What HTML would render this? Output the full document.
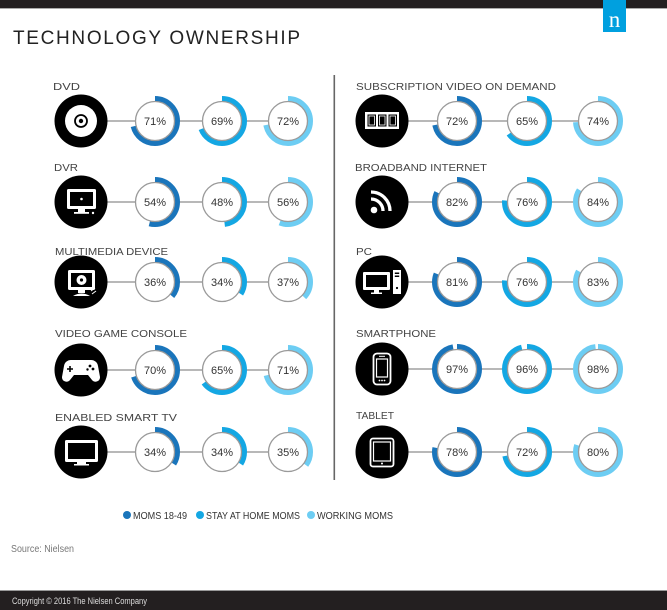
<!DOCTYPE html>
<html>
<head>
<meta charset="utf-8">
<style>
  html,body{margin:0;padding:0;background:#fff;}
  svg{display:block;}
  text{font-family:"Liberation Sans",sans-serif;}
  .lbl{font-size:10px;fill:#444;}
  .pct{font-size:11px;fill:#333;text-anchor:middle;}
  .ring{fill:#fff;stroke:#9a9a9a;stroke-width:1.3;}
  .a1{fill:none;stroke:#1a75bb;stroke-width:6;}
  .a2{fill:none;stroke:#14a7e3;stroke-width:6;}
  .a3{fill:none;stroke:#6dcdf3;stroke-width:6;}
  .ln{stroke:#a0a0a0;stroke-width:1.5;}
</style>
</head>
<body>
<svg width="667" height="610" viewBox="0 0 667 610" xmlns="http://www.w3.org/2000/svg">
  <rect width="667" height="610" fill="#fff"/>
  <!-- top bar -->
  <rect x="0" y="0" width="667" height="8" fill="#231f20"/>
  <rect x="0" y="8" width="667" height="1" fill="#aaa"/>
  <rect x="603" y="0" width="23" height="32" fill="#00a0df"/>
  <text x="614.5" y="27" text-anchor="middle" style="font-family:'Liberation Serif',serif;font-size:23px;fill:#fff;">n</text>

  <!-- title -->
  <text x="13" y="44" textLength="287" lengthAdjust="spacing" style="font-size:19px;fill:#222;">TECHNOLOGY OWNERSHIP</text>

  <!-- divider -->
  <rect x="333.5" y="75" width="1.6" height="405" fill="#666"/>

  <!-- connecting lines -->
  <g class="ln">
    <line x1="81" y1="121" x2="288" y2="121"/>
    <line x1="81" y1="202" x2="288" y2="202"/>
    <line x1="81" y1="282" x2="288" y2="282"/>
    <line x1="81" y1="370" x2="288" y2="370"/>
    <line x1="81" y1="452" x2="288" y2="452"/>
    <line x1="382" y1="121" x2="598" y2="121"/>
    <line x1="382" y1="202" x2="598" y2="202"/>
    <line x1="382" y1="282" x2="598" y2="282"/>
    <line x1="382" y1="369" x2="598" y2="369"/>
    <line x1="382" y1="452" x2="598" y2="452"/>
  </g>

  <!-- labels -->
  <text class="lbl" x="53" y="90" textLength="27" lengthAdjust="spacingAndGlyphs">DVD</text>
  <text class="lbl" x="54" y="171" textLength="24" lengthAdjust="spacingAndGlyphs">DVR</text>
  <text class="lbl" x="55" y="255" textLength="113" lengthAdjust="spacingAndGlyphs">MULTIMEDIA DEVICE</text>
  <text class="lbl" x="55" y="337" textLength="132" lengthAdjust="spacingAndGlyphs">VIDEO GAME CONSOLE</text>
  <text class="lbl" x="55" y="421" textLength="122" lengthAdjust="spacingAndGlyphs">ENABLED SMART TV</text>
  <text class="lbl" x="356" y="90" textLength="200" lengthAdjust="spacingAndGlyphs">SUBSCRIPTION VIDEO ON DEMAND</text>
  <text class="lbl" x="355" y="171" textLength="132" lengthAdjust="spacingAndGlyphs">BROADBAND INTERNET</text>
  <text class="lbl" x="356" y="255" textLength="16" lengthAdjust="spacingAndGlyphs">PC</text>
  <text class="lbl" x="356" y="337" textLength="80" lengthAdjust="spacingAndGlyphs">SMARTPHONE</text>
  <text class="lbl" x="356" y="419" textLength="38" lengthAdjust="spacingAndGlyphs">TABLET</text>

  <!-- ICONS -->
  <!-- DVD -->
  <circle cx="81" cy="121" r="26.5" fill="#000"/>
  <circle cx="81" cy="121" r="16" fill="#fff"/>
  <circle cx="81" cy="121" r="6" fill="none" stroke="#000" stroke-width="1.8"/>
  <circle cx="81" cy="121" r="2.2" fill="#000"/>

  <!-- DVR -->
  <circle cx="81" cy="202" r="26.5" fill="#000"/>
  <rect x="67" y="189" width="29" height="20" rx="1.5" fill="#fff"/>
  <rect x="70" y="192" width="23" height="14" fill="#000"/>
  <circle cx="81.5" cy="199" r="1.3" fill="#fff"/>
  <rect x="78" y="209" width="7" height="3" fill="#fff"/>
  <rect x="74" y="212" width="15" height="1.8" fill="#fff"/>
  <circle cx="93" cy="213" r="1.2" fill="#fff"/>

  <!-- Multimedia -->
  <circle cx="81" cy="282" r="26.5" fill="#000"/>
  <rect x="68" y="270" width="27" height="20" rx="1.5" fill="#fff"/>
  <rect x="71" y="273" width="21" height="14" fill="#000"/>
  <circle cx="81.5" cy="280" r="5" fill="#fff"/>
  <circle cx="81.5" cy="280" r="1.6" fill="#000"/>
  <rect x="78" y="290" width="7" height="3" fill="#fff"/>
  <path d="M73,296 q8.5,-5 17,0 z" fill="#fff"/>
  <path d="M91,291 l4,-3 M92,294 l4,-3" stroke="#fff" stroke-width="1"/>

  <!-- Video game console -->
  <circle cx="81" cy="370" r="26.5" fill="#000"/>
  <path d="M72,360 h19 a7,7 0 0 1 7,6 l2,11 a4.5,4.5 0 0 1 -8,3 l-4,-5 h-14 l-4,5 a4.5,4.5 0 0 1 -8,-3 l2,-11 a7,7 0 0 1 7,-6 z" fill="#fff"/>
  <path d="M70,366 v6 M67,369 h6" stroke="#000" stroke-width="1.6"/>
  <circle cx="90" cy="366" r="1.4" fill="#000"/>
  <circle cx="93" cy="369" r="1.4" fill="#000"/>
  <circle cx="87.5" cy="369.5" r="1.2" fill="#000"/>

  <!-- Smart TV -->
  <circle cx="81" cy="452" r="26.5" fill="#000"/>
  <rect x="65" y="440" width="33" height="22" rx="1.5" fill="#fff"/>
  <rect x="68" y="443" width="27" height="16" fill="#000"/>
  <rect x="77" y="462" width="9" height="2" fill="#fff"/>
  <rect x="74" y="464" width="15" height="1.5" fill="#fff"/>

  <!-- SVOD -->
  <circle cx="382" cy="121" r="26.5" fill="#000"/>
  <rect x="365" y="112" width="34" height="17" fill="#fff"/>
  <rect x="367.5" y="114.5" width="8.5" height="12" fill="#000"/>
  <rect x="378" y="114.5" width="8.5" height="12" fill="#000"/>
  <rect x="388.5" y="114.5" width="8.5" height="12" fill="#000"/>
  <rect x="369" y="116" width="5.5" height="9" fill="none" stroke="#fff" stroke-width="0.8"/>
  <rect x="379.5" y="116" width="5.5" height="9" fill="none" stroke="#fff" stroke-width="0.8"/>
  <rect x="390" y="116" width="5.5" height="9" fill="none" stroke="#fff" stroke-width="0.8"/>

  <!-- Broadband -->
  <circle cx="382" cy="202" r="26.5" fill="#000"/>
  <circle cx="374" cy="210" r="3.3" fill="#fff"/>
  <path d="M371,199 a12,12 0 0 1 12,12" fill="none" stroke="#fff" stroke-width="3.3"/>
  <path d="M371,192 a19,19 0 0 1 19,19" fill="none" stroke="#fff" stroke-width="3.3"/>

  <!-- PC -->
  <circle cx="382" cy="282" r="26.5" fill="#000"/>
  <rect x="363" y="272" width="27" height="18" rx="1" fill="#fff"/>
  <rect x="366" y="275" width="21" height="12" fill="#000"/>
  <rect x="374" y="290" width="5" height="2.5" fill="#fff"/>
  <rect x="371" y="292.5" width="11" height="1.5" fill="#fff"/>
  <rect x="393" y="270" width="8" height="24" fill="#fff"/>
  <rect x="394.8" y="272.5" width="4.4" height="1.5" fill="#000"/>
  <rect x="394.8" y="275.5" width="4.4" height="1.5" fill="#000"/>
  <circle cx="397" cy="288" r="1.1" fill="#000"/>

  <!-- Smartphone -->
  <circle cx="382" cy="369" r="26.5" fill="#000"/>
  <rect x="373.5" y="353.5" width="17" height="31" rx="3.5" fill="none" stroke="#fff" stroke-width="1.8"/>
  <rect x="376.5" y="359" width="11" height="18" fill="none" stroke="#fff" stroke-width="1.2"/>
  <path d="M379,356.3 h6" stroke="#fff" stroke-width="1"/>
  <circle cx="379.5" cy="380.5" r="0.9" fill="#fff"/>
  <circle cx="382" cy="380.5" r="0.9" fill="#fff"/>
  <circle cx="384.5" cy="380.5" r="0.9" fill="#fff"/>

  <!-- Tablet -->
  <circle cx="382" cy="452" r="26.5" fill="#000"/>
  <rect x="370.5" y="438.5" width="23" height="28" rx="2.5" fill="none" stroke="#fff" stroke-width="1.8"/>
  <rect x="373.5" y="442" width="17" height="19" fill="none" stroke="#fff" stroke-width="1.2"/>
  <circle cx="382" cy="463.5" r="1" fill="#fff"/>

  <!-- PERCENT RINGS -->
  <circle class="a1" cx="155" cy="121" r="22" stroke-dasharray="98.14 200" transform="rotate(-90 155 121)"/>
  <circle class="ring" cx="155" cy="121" r="19.5"/><text class="pct" x="155" y="125">71%</text>
  <circle class="a2" cx="222" cy="121" r="22" stroke-dasharray="95.38 200" transform="rotate(-90 222 121)"/>
  <circle class="ring" cx="222" cy="121" r="19.5"/><text class="pct" x="222" y="125">69%</text>
  <circle class="a3" cx="288" cy="121" r="22" stroke-dasharray="99.53 200" transform="rotate(-90 288 121)"/>
  <circle class="ring" cx="288" cy="121" r="19.5"/><text class="pct" x="288" y="125">72%</text>

  <circle class="a1" cx="155" cy="202" r="22" stroke-dasharray="74.64 200" transform="rotate(-90 155 202)"/>
  <circle class="ring" cx="155" cy="202" r="19.5"/><text class="pct" x="155" y="206">54%</text>
  <circle class="a2" cx="222" cy="202" r="22" stroke-dasharray="66.35 200" transform="rotate(-90 222 202)"/>
  <circle class="ring" cx="222" cy="202" r="19.5"/><text class="pct" x="222" y="206">48%</text>
  <circle class="a3" cx="288" cy="202" r="22" stroke-dasharray="77.41 200" transform="rotate(-90 288 202)"/>
  <circle class="ring" cx="288" cy="202" r="19.5"/><text class="pct" x="288" y="206">56%</text>

  <circle class="a1" cx="155" cy="282" r="22" stroke-dasharray="49.76 200" transform="rotate(-90 155 282)"/>
  <circle class="ring" cx="155" cy="282" r="19.5"/><text class="pct" x="155" y="286">36%</text>
  <circle class="a2" cx="222" cy="282" r="22" stroke-dasharray="47.00 200" transform="rotate(-90 222 282)"/>
  <circle class="ring" cx="222" cy="282" r="19.5"/><text class="pct" x="222" y="286">34%</text>
  <circle class="a3" cx="288" cy="282" r="22" stroke-dasharray="51.15 200" transform="rotate(-90 288 282)"/>
  <circle class="ring" cx="288" cy="282" r="19.5"/><text class="pct" x="288" y="286">37%</text>

  <circle class="a1" cx="155" cy="370" r="22" stroke-dasharray="96.76 200" transform="rotate(-90 155 370)"/>
  <circle class="ring" cx="155" cy="370" r="19.5"/><text class="pct" x="155" y="374">70%</text>
  <circle class="a2" cx="222" cy="370" r="22" stroke-dasharray="89.85 200" transform="rotate(-90 222 370)"/>
  <circle class="ring" cx="222" cy="370" r="19.5"/><text class="pct" x="222" y="374">65%</text>
  <circle class="a3" cx="288" cy="370" r="22" stroke-dasharray="98.14 200" transform="rotate(-90 288 370)"/>
  <circle class="ring" cx="288" cy="370" r="19.5"/><text class="pct" x="288" y="374">71%</text>

  <circle class="a1" cx="155" cy="452" r="22" stroke-dasharray="47.00 200" transform="rotate(-90 155 452)"/>
  <circle class="ring" cx="155" cy="452" r="19.5"/><text class="pct" x="155" y="456">34%</text>
  <circle class="a2" cx="222" cy="452" r="22" stroke-dasharray="47.00 200" transform="rotate(-90 222 452)"/>
  <circle class="ring" cx="222" cy="452" r="19.5"/><text class="pct" x="222" y="456">34%</text>
  <circle class="a3" cx="288" cy="452" r="22" stroke-dasharray="48.38 200" transform="rotate(-90 288 452)"/>
  <circle class="ring" cx="288" cy="452" r="19.5"/><text class="pct" x="288" y="456">35%</text>

  <circle class="a1" cx="457" cy="121" r="22" stroke-dasharray="99.53 200" transform="rotate(-90 457 121)"/>
  <circle class="ring" cx="457" cy="121" r="19.5"/><text class="pct" x="457" y="125">72%</text>
  <circle class="a2" cx="527" cy="121" r="22" stroke-dasharray="89.85 200" transform="rotate(-90 527 121)"/>
  <circle class="ring" cx="527" cy="121" r="19.5"/><text class="pct" x="527" y="125">65%</text>
  <circle class="a3" cx="598" cy="121" r="22" stroke-dasharray="102.29 200" transform="rotate(-90 598 121)"/>
  <circle class="ring" cx="598" cy="121" r="19.5"/><text class="pct" x="598" y="125">74%</text>

  <circle class="a1" cx="457" cy="202" r="22" stroke-dasharray="113.35 200" transform="rotate(-90 457 202)"/>
  <circle class="ring" cx="457" cy="202" r="19.5"/><text class="pct" x="457" y="206">82%</text>
  <circle class="a2" cx="527" cy="202" r="22" stroke-dasharray="105.05 200" transform="rotate(-90 527 202)"/>
  <circle class="ring" cx="527" cy="202" r="19.5"/><text class="pct" x="527" y="206">76%</text>
  <circle class="a3" cx="598" cy="202" r="22" stroke-dasharray="116.11 200" transform="rotate(-90 598 202)"/>
  <circle class="ring" cx="598" cy="202" r="19.5"/><text class="pct" x="598" y="206">84%</text>

  <circle class="a1" cx="457" cy="282" r="22" stroke-dasharray="111.97 200" transform="rotate(-90 457 282)"/>
  <circle class="ring" cx="457" cy="282" r="19.5"/><text class="pct" x="457" y="286">81%</text>
  <circle class="a2" cx="527" cy="282" r="22" stroke-dasharray="105.05 200" transform="rotate(-90 527 282)"/>
  <circle class="ring" cx="527" cy="282" r="19.5"/><text class="pct" x="527" y="286">76%</text>
  <circle class="a3" cx="598" cy="282" r="22" stroke-dasharray="114.73 200" transform="rotate(-90 598 282)"/>
  <circle class="ring" cx="598" cy="282" r="19.5"/><text class="pct" x="598" y="286">83%</text>

  <circle class="a1" cx="457" cy="369" r="22" stroke-dasharray="134.08 200" transform="rotate(-90 457 369)"/>
  <circle class="ring" cx="457" cy="369" r="19.5"/><text class="pct" x="457" y="373">97%</text>
  <circle class="a2" cx="527" cy="369" r="22" stroke-dasharray="132.70 200" transform="rotate(-90 527 369)"/>
  <circle class="ring" cx="527" cy="369" r="19.5"/><text class="pct" x="527" y="373">96%</text>
  <circle class="a3" cx="598" cy="369" r="22" stroke-dasharray="135.47 200" transform="rotate(-90 598 369)"/>
  <circle class="ring" cx="598" cy="369" r="19.5"/><text class="pct" x="598" y="373">98%</text>

  <circle class="a1" cx="457" cy="452" r="22" stroke-dasharray="107.82 200" transform="rotate(-90 457 452)"/>
  <circle class="ring" cx="457" cy="452" r="19.5"/><text class="pct" x="457" y="456">78%</text>
  <circle class="a2" cx="527" cy="452" r="22" stroke-dasharray="99.53 200" transform="rotate(-90 527 452)"/>
  <circle class="ring" cx="527" cy="452" r="19.5"/><text class="pct" x="527" y="456">72%</text>
  <circle class="a3" cx="598" cy="452" r="22" stroke-dasharray="110.58 200" transform="rotate(-90 598 452)"/>
  <circle class="ring" cx="598" cy="452" r="19.5"/><text class="pct" x="598" y="456">80%</text>

  <!-- legend -->
  <circle cx="127" cy="515" r="4" fill="#1a75bb"/>
  <text x="133" y="519" textLength="54" lengthAdjust="spacingAndGlyphs" style="font-size:10.5px;fill:#333;">MOMS 18-49</text>
  <circle cx="200" cy="515" r="4" fill="#14a7e3"/>
  <text x="206" y="519" textLength="94" lengthAdjust="spacingAndGlyphs" style="font-size:10.5px;fill:#333;">STAY AT HOME MOMS</text>
  <circle cx="311" cy="515" r="4" fill="#6dcdf3"/>
  <text x="317" y="519" textLength="76" lengthAdjust="spacingAndGlyphs" style="font-size:10.5px;fill:#333;">WORKING MOMS</text>

  <!-- source -->
  <text x="11" y="552" textLength="63" lengthAdjust="spacingAndGlyphs" style="font-size:10px;fill:#777;">Source: Nielsen</text>

  <!-- footer -->
  <rect x="0" y="590" width="667" height="1" fill="#999"/>
  <rect x="0" y="591" width="667" height="19" fill="#231f20"/>
  <text x="12" y="604" textLength="135" lengthAdjust="spacingAndGlyphs" style="font-size:9px;fill:#ddd;">Copyright © 2016 The Nielsen Company</text>
</svg>
</body>
</html>
